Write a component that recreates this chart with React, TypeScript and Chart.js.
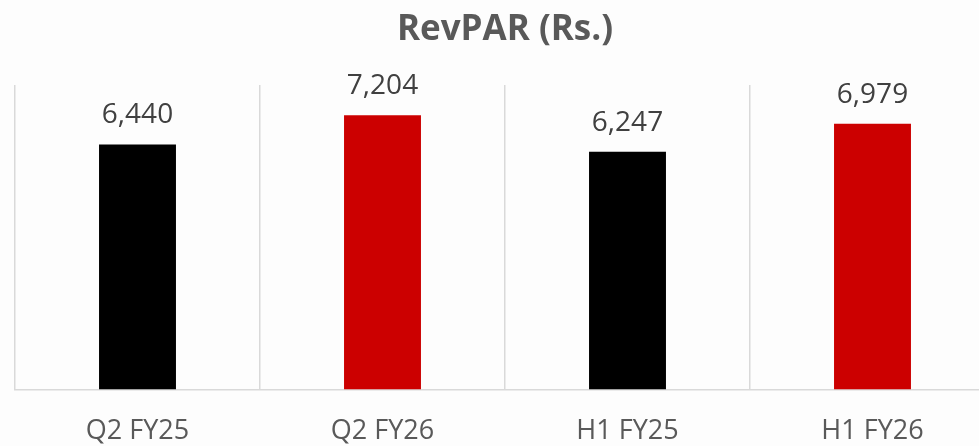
import React, { useEffect, useRef } from "react";
import { Chart, registerables } from "chart.js";

Chart.register(...registerables);

const categories = ["Q2 FY25", "Q2 FY26", "H1 FY25", "H1 FY26"];
const revparValues = [6440, 7204, 6247, 6979];
const barColors = ["#000000", "#CC0000", "#000000", "#CC0000"];
const chartTitle = "RevPAR (Rs.)";

const valueLabelPlugin = {
  id: "valueLabels",
  afterDatasetsDraw(chart: any) {
    const ctx = chart.ctx;
    const meta = chart.getDatasetMeta(0);
    const data = chart.data.datasets[0].data as number[];
    ctx.save();
    ctx.font = "28px 'Open Sans'";
    ctx.fillStyle = "#404040";
    ctx.textAlign = "center";
    ctx.textBaseline = "alphabetic";
    meta.data.forEach((bar: any, i: number) => {
      ctx.fillText(data[i].toLocaleString("en-US"), bar.x, bar.y - 21);
    });
    ctx.restore();
  },
};

const bgPlugin = {
  id: "bg",
  beforeDraw(chart: any) {
    const ctx = chart.ctx;
    ctx.save();
    ctx.fillStyle = "#fdfdfd";
    ctx.fillRect(0, 0, chart.width, chart.height);
    ctx.restore();
  },
};

export default function App() {
  const ref = useRef<HTMLCanvasElement | null>(null);

  useEffect(() => {
    if (!ref.current) return;
    const chart = new Chart(ref.current, {
      type: "bar",
      data: {
        labels: categories,
        datasets: [
          {
            data: revparValues,
            backgroundColor: barColors,
            borderWidth: 0,
            categoryPercentage: 1,
            barPercentage: 0.314,
          },
        ],
      },
      options: {
        responsive: false,
        animation: false,
        layout: { padding: { left: 15, right: 15, top: 0, bottom: 1 } },
        plugins: {
          legend: { display: false },
          tooltip: { enabled: false },
          title: {
            display: true,
            text: chartTitle,
            color: "#595959",
            font: { family: "'Open Sans'", size: 35, weight: "bold" },
            padding: { top: 9, bottom: 34 },
          },
        },
        scales: {
          x: {
            grid: {
              offset: true,
              color: "#d9d9d9",
              lineWidth: 1.5,
              drawTicks: false,
            },
            border: { display: true, color: "#d9d9d9", width: 1.5 },
            ticks: {
              color: "#595959",
              font: { family: "'Open Sans'", size: 27 },
              padding: 26,
            },
          },
          y: {
            display: false,
            min: 0,
            max: 8000,
          },
        },
      },
      plugins: [bgPlugin, valueLabelPlugin],
    });
    return () => chart.destroy();
  }, []);

  return (
    <div
      style={{
        position: "absolute",
        left: 0,
        top: 0,
        width: 979,
        height: 446,
        overflow: "hidden",
        background: "#fdfdfd",
      }}
    >
      <canvas ref={ref} width={1010} height={475} style={{ display: "block" }} />
    </div>
  );
}
